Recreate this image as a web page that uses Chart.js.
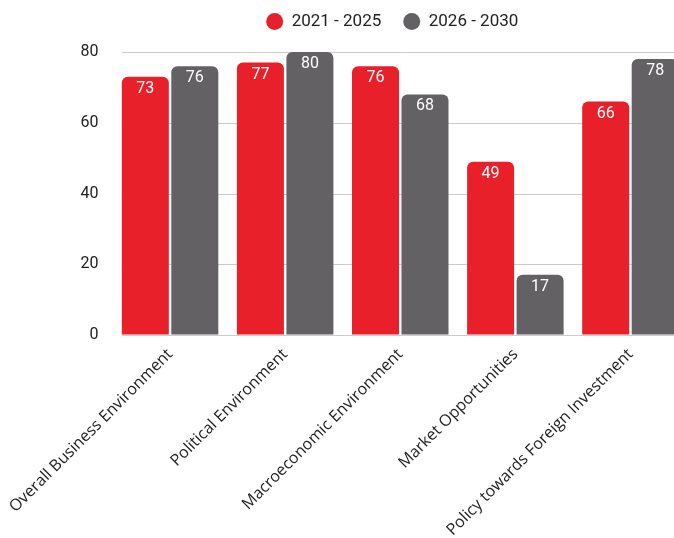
<!DOCTYPE html>
<html>
<head>
<meta charset="utf-8">
<script src="https://cdn.jsdelivr.net/npm/chart.js@4/dist/chart.umd.min.js"></script>
<style>
  html, body { margin: 0; padding: 0; background: #fff; overflow: hidden; }
  #wrap { width: 674px; height: 538px; overflow: hidden; position: relative; }
  #box { width: 688px; height: 538px; position: absolute; left: 0; top: 0; }
</style>
</head>
<body>
<div id="wrap"><div id="box"><canvas id="c"></canvas></div></div>
<script>
const categories = [
  'Overall Business Environment',
  'Political Environment',
  'Macroeconomic Environment',
  'Market Opportunities',
  'Policy towards Foreign Investment'
];
const seriesNames = ['2021 - 2025', '2026 - 2030'];
const values2021 = [73, 77, 76, 49, 66];
const values2026 = [76, 80, 68, 17, 78];
const yTicks = [0, 20, 40, 60, 80];

const RED = '#e8202a';
const GREY = '#636164';
const GRID = '#cccccc';
const NUM_FONT = 'Roboto, "DejaVu Sans", sans-serif';

// horizontal gridlines starting at the left edge of the first bar
const gridFromFirstBar = {
  id: 'gridFromFirstBar',
  beforeDatasetsDraw(chart) {
    const meta = chart.getDatasetMeta(0);
    const first = meta.data[0];
    if (!first) return;
    const x0 = first.x - first.width / 2;
    const yScale = chart.scales.y;
    const ctx = chart.ctx;
    ctx.save();
    ctx.strokeStyle = GRID;
    ctx.lineWidth = 1;
    yScale.ticks.forEach(t => {
      const y = Math.round(yScale.getPixelForValue(t.value)) + 0.5;
      ctx.beginPath();
      ctx.moveTo(x0, y);
      ctx.lineTo(chart.chartArea.right, y);
      ctx.stroke();
    });
    ctx.restore();
  }
};

const valueLabels = {
  id: 'valueLabels',
  afterDatasetsDraw(chart) {
    const ctx = chart.ctx;
    ctx.save();
    ctx.fillStyle = '#ffffff';
    ctx.font = '16px ' + NUM_FONT;
    ctx.textAlign = 'center';
    ctx.textBaseline = 'middle';
    chart.data.datasets.forEach((ds, i) => {
      const meta = chart.getDatasetMeta(i);
      meta.data.forEach((bar, j) => {
        ctx.fillText(String(ds.data[j]), bar.x, bar.y + 12);
      });
    });
    ctx.restore();
  }
};

// shift the legend drawing slightly up/left to match the reference position
const legendShift = {
  id: 'legendShift',
  beforeLayout(chart) {
    const lg = chart.legend;
    if (lg && !lg._shiftPatched) {
      const origDraw = lg.draw.bind(lg);
      lg.draw = function () {
        const ctx = this.ctx;
        ctx.save();
        ctx.translate(-8, -12);
        origDraw();
        ctx.restore();
      };
      lg._shiftPatched = true;
    }
  }
};

new Chart(document.getElementById('c'), {
  type: 'bar',
  data: {
    labels: categories,
    datasets: [
      { label: seriesNames[0], data: values2021, backgroundColor: RED },
      { label: seriesNames[1], data: values2026, backgroundColor: GREY }
    ]
  },
  options: {
    responsive: true,
    maintainAspectRatio: false,
    animation: false,
    layout: { padding: { top: 3, left: 0, right: 0, bottom: 0 } },
    datasets: {
      bar: {
        categoryPercentage: 0.86,
        barPercentage: 0.95,
        borderRadius: { topLeft: 6, topRight: 6, bottomLeft: 0, bottomRight: 0 },
        borderSkipped: 'start'
      }
    },
    plugins: {
      tooltip: { enabled: false },
      legend: {
        display: true,
        position: 'top',
        fullSize: false,
        labels: {
          usePointStyle: true,
          pointStyle: 'circle',
          boxHeight: 12,
          pointStyleWidth: 17,
          padding: 22,
          color: '#222',
          font: { family: NUM_FONT, size: 17 }
        }
      }
    },
    scales: {
      x: {
        grid: { display: false, drawTicks: false },
        border: { display: false },
        ticks: {
          autoSkip: false,
          minRotation: 45,
          maxRotation: 45,
          padding: 10,
          color: '#222',
          font: { family: '"Open Sans", sans-serif', size: 16 }
        },
        afterFit(scale) {
          scale.height = 203;
          scale.paddingLeft = 0;
          scale.paddingRight = 0;
        }
      },
      y: {
        min: 0,
        max: 80,
        afterBuildTicks(scale) { scale.ticks = yTicks.map(v => ({ value: v })); },
        grid: { drawOnChartArea: false, drawTicks: false },
        border: { display: false },
        ticks: {
          padding: 14,
          color: '#222',
          font: { family: NUM_FONT, size: 16 }
        },
        afterFit(scale) { scale.width = 112.5; }
      }
    }
  },
  plugins: [gridFromFirstBar, valueLabels, legendShift]
});
</script>
</body>
</html>
